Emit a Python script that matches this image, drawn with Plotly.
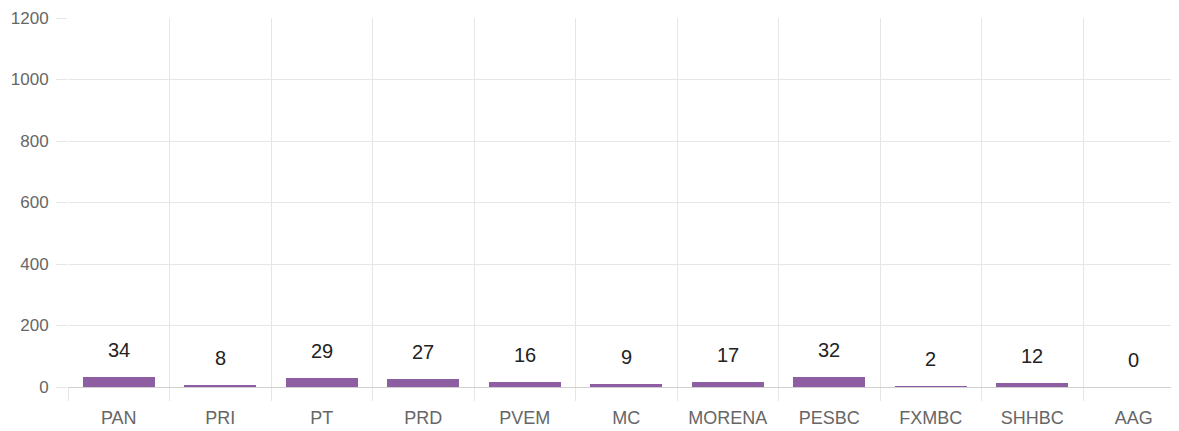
import plotly.graph_objects as go

categories = ["PAN", "PRI", "PT", "PRD", "PVEM", "MC", "MORENA", "PESBC", "FXMBC", "SHHBC", "AAG"]
values = [34, 8, 29, 27, 16, 9, 17, 32, 2, 12, 0]
y_ticks = [0, 200, 400, 600, 800, 1000, 1200]

# page body has an 8px margin, so the figure is offset by 8px in the window
W, H = 1171, 423
ml, mt, mb = 60, 10, 44
cat_px = 101.5
plot_w = W - ml
x_hi = -0.5 + plot_w / cat_px

FONT = "Liberation Sans, Arial, Helvetica, sans-serif"

fig = go.Figure()
fig.add_trace(go.Bar(
    x=categories, y=values,
    marker=dict(color="#8e5ea2", line=dict(width=0)),
    width=0.71,
    hoverinfo="skip",
))

for c, v in zip(categories, values):
    fig.add_annotation(x=c, y=v, text=str(v), showarrow=False,
                       yanchor="middle", yshift=27,
                       font=dict(family=FONT, size=20, color="#222"))

grid = "#e6e6e6"
fig.update_layout(
    width=W, height=H,
    margin=dict(l=ml, r=0, t=mt, b=mb, pad=0),
    paper_bgcolor="white", plot_bgcolor="white",
    showlegend=False,
    bargap=0,
    xaxis=dict(
        type="category", range=[-0.5, x_hi], automargin=False,
        tickson="boundaries", ticks="outside", ticklen=13, tickcolor=grid, tickwidth=1,
        showgrid=True, gridcolor=grid, gridwidth=1,
        showline=False, zeroline=False,
        ticklabelstandoff=18,
        tickfont=dict(family=FONT, size=18, color="#666"),
    ),
    yaxis=dict(
        range=[0, 1200], tickvals=y_ticks, ticktext=[str(t) for t in y_ticks],
        automargin=False,
        ticks="outside", ticklen=11, tickcolor=grid, tickwidth=1,
        showgrid=True, gridcolor=grid, gridwidth=1,
        zeroline=True, zerolinecolor="#d0d0d0", zerolinewidth=1,
        showline=False,
        ticklabelstandoff=4,
        tickfont=dict(family=FONT, size=17, color="#666"),
    ),
)

fig.write_html("out.html")
